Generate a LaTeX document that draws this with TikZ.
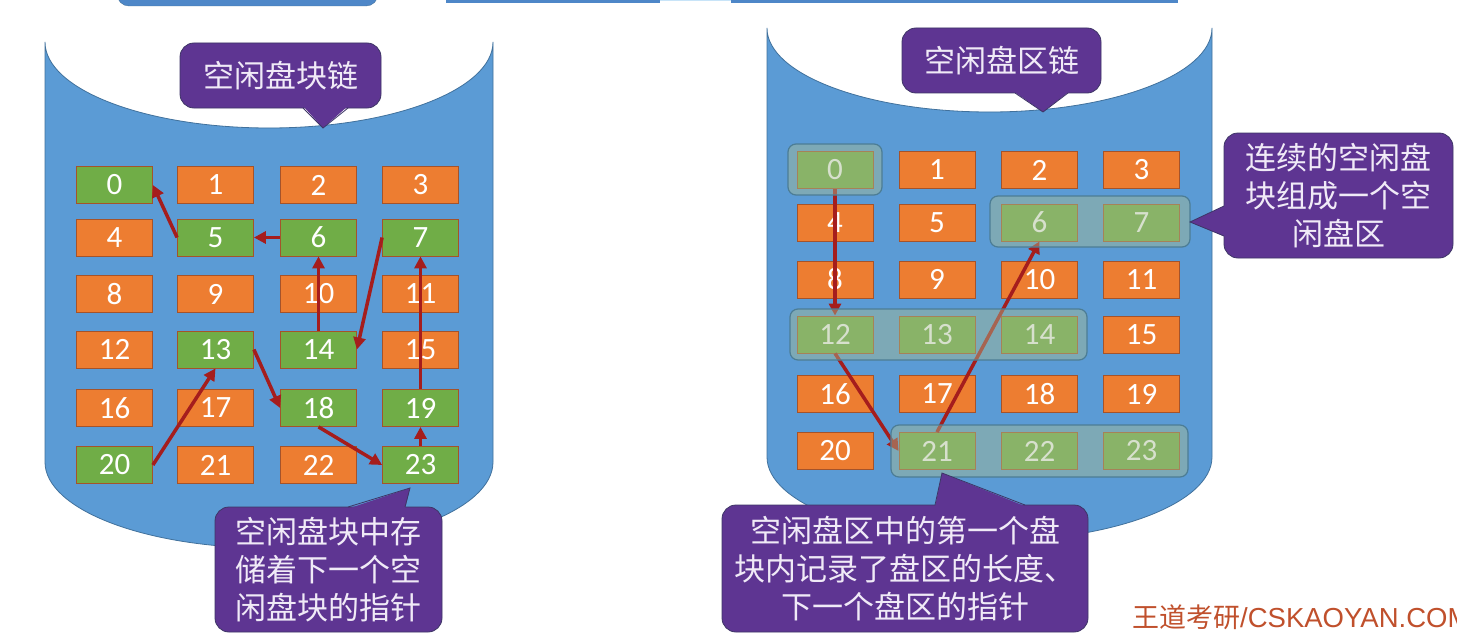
\documentclass[tikz,border=0pt]{standalone}
\usepackage{fontspec}
\setmainfont{Carlito}
\newfontfamily\cjk{Noto Sans CJK SC}
\newfontfamily\wmfont{Liberation Sans}
\usetikzlibrary{arrows.meta}
\definecolor{cylblue}{HTML}{5B9BD5}
\definecolor{cylline}{HTML}{41719C}
\definecolor{topblue}{HTML}{4E87C8}
\definecolor{lightcyan}{HTML}{C8E4F8}
\definecolor{blkor}{HTML}{ED7D31}
\definecolor{blkgr}{HTML}{70AD47}
\definecolor{blkline}{HTML}{A5532A}
\definecolor{callp}{HTML}{5E3592}
\definecolor{callline}{HTML}{3E3566}
\definecolor{calltext}{HTML}{F0EAF7}
\definecolor{arr}{HTML}{A51D1D}
\definecolor{grpfill}{HTML}{A8BC92}
\definecolor{grpline}{HTML}{4C7D95}
\definecolor{wmcol}{HTML}{C0502C}
\begin{document}
\begin{tikzpicture}[x=1pt,y=-1pt,
 blk/.style={draw=blkline, line width=0.8pt, minimum width=76pt, minimum height=37pt, inner sep=0pt, text=white, font=\fontsize{31}{31}\selectfont},
 orb/.style={blk, fill=blkor},
 grb/.style={blk, fill=blkgr},
 link/.style={draw=arr, line width=3.5pt, -{Triangle[length=12pt,width=12pt]}},
 callout/.style={fill=callp, draw=callline, line width=0.8pt, rounded corners=14pt, text=calltext, align=center, inner sep=0pt, font=\cjk\fontsize{31}{38}\selectfont},
 ptr/.style={fill=callp},
 ptrline/.style={draw=callline, line width=0.8pt, line join=miter},
 grp/.style={fill=grpfill, fill opacity=0.45, draw=grpline, line width=1.2pt, rounded corners=8pt},
 cyl/.style={fill=cylblue, draw=cylline, line width=0.8pt}]
\useasboundingbox[fill=white] (0,0) rectangle (1457,634);
% top fragments
\draw[fill=topblue, draw=cylline, rounded corners=12pt] (117,-30) rectangle (378,6);
\fill[topblue] (446,-3) rectangle (660,3);
\fill[topblue] (731,-3) rectangle (1178,3);
\fill[lightcyan] (660,-3) rectangle (731,1);
% cylinders
\path[cyl] (45,42) -- (45,462) arc[start angle=180, end angle=0, x radius=224, y radius=86] -- (493,42) arc[start angle=0, end angle=180, x radius=224, y radius=86] -- cycle;
\path[cyl] (767,28) -- (767,457) arc[start angle=180, end angle=0, x radius=222.5, y radius=84] -- (1212,28) arc[start angle=0, end angle=180, x radius=222.5, y radius=84] -- cycle;
% left blocks
\node[grb] (L0) at (114.5,185) {0};
\node[orb] (L1) at (215.5,185) {1};
\node[orb] (L2) at (318.5,185) {2};
\node[orb] (L3) at (420.5,185) {3};
\node[orb] (L4) at (114.5,237.5) {4};
\node[grb] (L5) at (215.5,237.5) {5};
\node[grb] (L6) at (318.5,237.5) {6};
\node[grb] (L7) at (420.5,237.5) {7};
\node[orb] (L8) at (114.5,294) {8};
\node[orb] (L9) at (215.5,294) {9};
\node[orb] (L10) at (318.5,294) {10};
\node[orb] (L11) at (420.5,294) {11};
\node[orb] (L12) at (114.5,349.5) {12};
\node[grb] (L13) at (215.5,349.5) {13};
\node[grb] (L14) at (318.5,349.5) {14};
\node[orb] (L15) at (420.5,349.5) {15};
\node[orb] (L16) at (114.5,408) {16};
\node[orb] (L17) at (215.5,408) {17};
\node[grb] (L18) at (318.5,408) {18};
\node[grb] (L19) at (420.5,408) {19};
\node[grb] (L20) at (114.5,465) {20};
\node[orb] (L21) at (215.5,465) {21};
\node[orb] (L22) at (318.5,465) {22};
\node[grb] (L23) at (420.5,465) {23};
% right blocks
\node[grb] (R0) at (835,170) {0};
\node[orb] (R1) at (937,170) {1};
\node[orb] (R2) at (1039.5,170) {2};
\node[orb] (R3) at (1141.5,170) {3};
\node[orb] (R4) at (835,222.5) {4};
\node[orb] (R5) at (937,222.5) {5};
\node[grb] (R6) at (1039.5,222.5) {6};
\node[grb] (R7) at (1141.5,222.5) {7};
\node[orb] (R8) at (835,279.5) {8};
\node[orb] (R9) at (937,279.5) {9};
\node[orb] (R10) at (1039.5,279.5) {10};
\node[orb] (R11) at (1141.5,279.5) {11};
\node[grb] (R12) at (835,334.5) {12};
\node[grb] (R13) at (937,334.5) {13};
\node[grb] (R14) at (1039.5,334.5) {14};
\node[orb] (R15) at (1141.5,334.5) {15};
\node[orb] (R16) at (835,394) {16};
\node[orb] (R17) at (937,394) {17};
\node[orb] (R18) at (1039.5,394) {18};
\node[orb] (R19) at (1141.5,394) {19};
\node[orb] (R20) at (835,451) {20};
\node[grb] (R21) at (937,451) {21};
\node[grb] (R22) at (1039.5,451) {22};
\node[grb] (R23) at (1141.5,451) {23};
% left links
\draw[link] (L5.west) -- (L0.east);
\draw[link] (L6.west) -- (L5.east);
\draw[link] (L14.north) -- (L6.south);
\draw[link] (L7.west) -- (L14.east);
\draw[link] (L13.east) -- (L18.west);
\draw[link] (L18.south) -- (L23.west);
\draw[link] (L23.north) -- (L19.south);
\draw[link] (L19.north) -- (L7.south);
\draw[link] (L20.east) -- (L13.south);
% right links
\draw[link] (R0.south) -- (R12.north);
\draw[link] (R12.south) -- (R21.west);
\draw[link] (R21.north) -- (R6.south);
% groups (free areas)
\path[grp] (788,144) rectangle (882,195);
\path[grp] (990,196) rectangle (1190,247);
\path[grp] (790,309) rectangle (1087,360);
\path[grp] (891,425) rectangle (1188,477);
% callouts
\node[callout, minimum width=201pt, minimum height=65pt] (C1) at (280.5,75.5) {空闲盘块链};
\fill[ptr] (303,106) -- (323,128) -- (348,106) -- cycle;
\draw[ptrline] (303,108) -- (323,128) -- (348,108);
\node[callout, minimum width=199pt, minimum height=65pt] (C2) at (1001.5,60.5) {空闲盘区链};
\fill[ptr] (1013,91) -- (1043,112) -- (1070,91) -- cycle;
\draw[ptrline] (1015,93) -- (1043,112) -- (1068,93);
\node[callout, minimum width=229pt, minimum height=125pt] (C3) at (1338.5,195.5) {连续的空闲盘\\块组成一个空\\闲盘区};
\fill[ptr] (1226,205) -- (1190,222) -- (1226,237) -- cycle;
\draw[ptrline] (1224,206) -- (1190,222) -- (1224,236);
\node[callout, minimum width=227pt, minimum height=125pt] (C4) at (328.5,569.5) {空闲盘块中存\\储着下一个空\\闲盘块的指针};
\fill[ptr] (347,509) -- (410,488) -- (405,509) -- cycle;
\draw[ptrline] (348,507) -- (410,488) -- (405,507);
\node[callout, minimum width=366pt, minimum height=127pt] (C5) at (905,568.5) {空闲盘区中的第一个盘\\块内记录了盘区的长度、\\下一个盘区的指针};
\fill[ptr] (935,507) -- (942,473) -- (1027,507) -- cycle;
\draw[ptrline] (935,505) -- (942,473) -- (1025,505);
% watermark
\node[anchor=base west, text=wmcol, inner sep=0pt] (wm) at (1132,627) {\cjk\fontsize{27}{27}\selectfont 王道考研\wmfont\fontsize{27.5}{27.5}\selectfont/CSKAOYAN.COM};
\end{tikzpicture}
\end{document}
